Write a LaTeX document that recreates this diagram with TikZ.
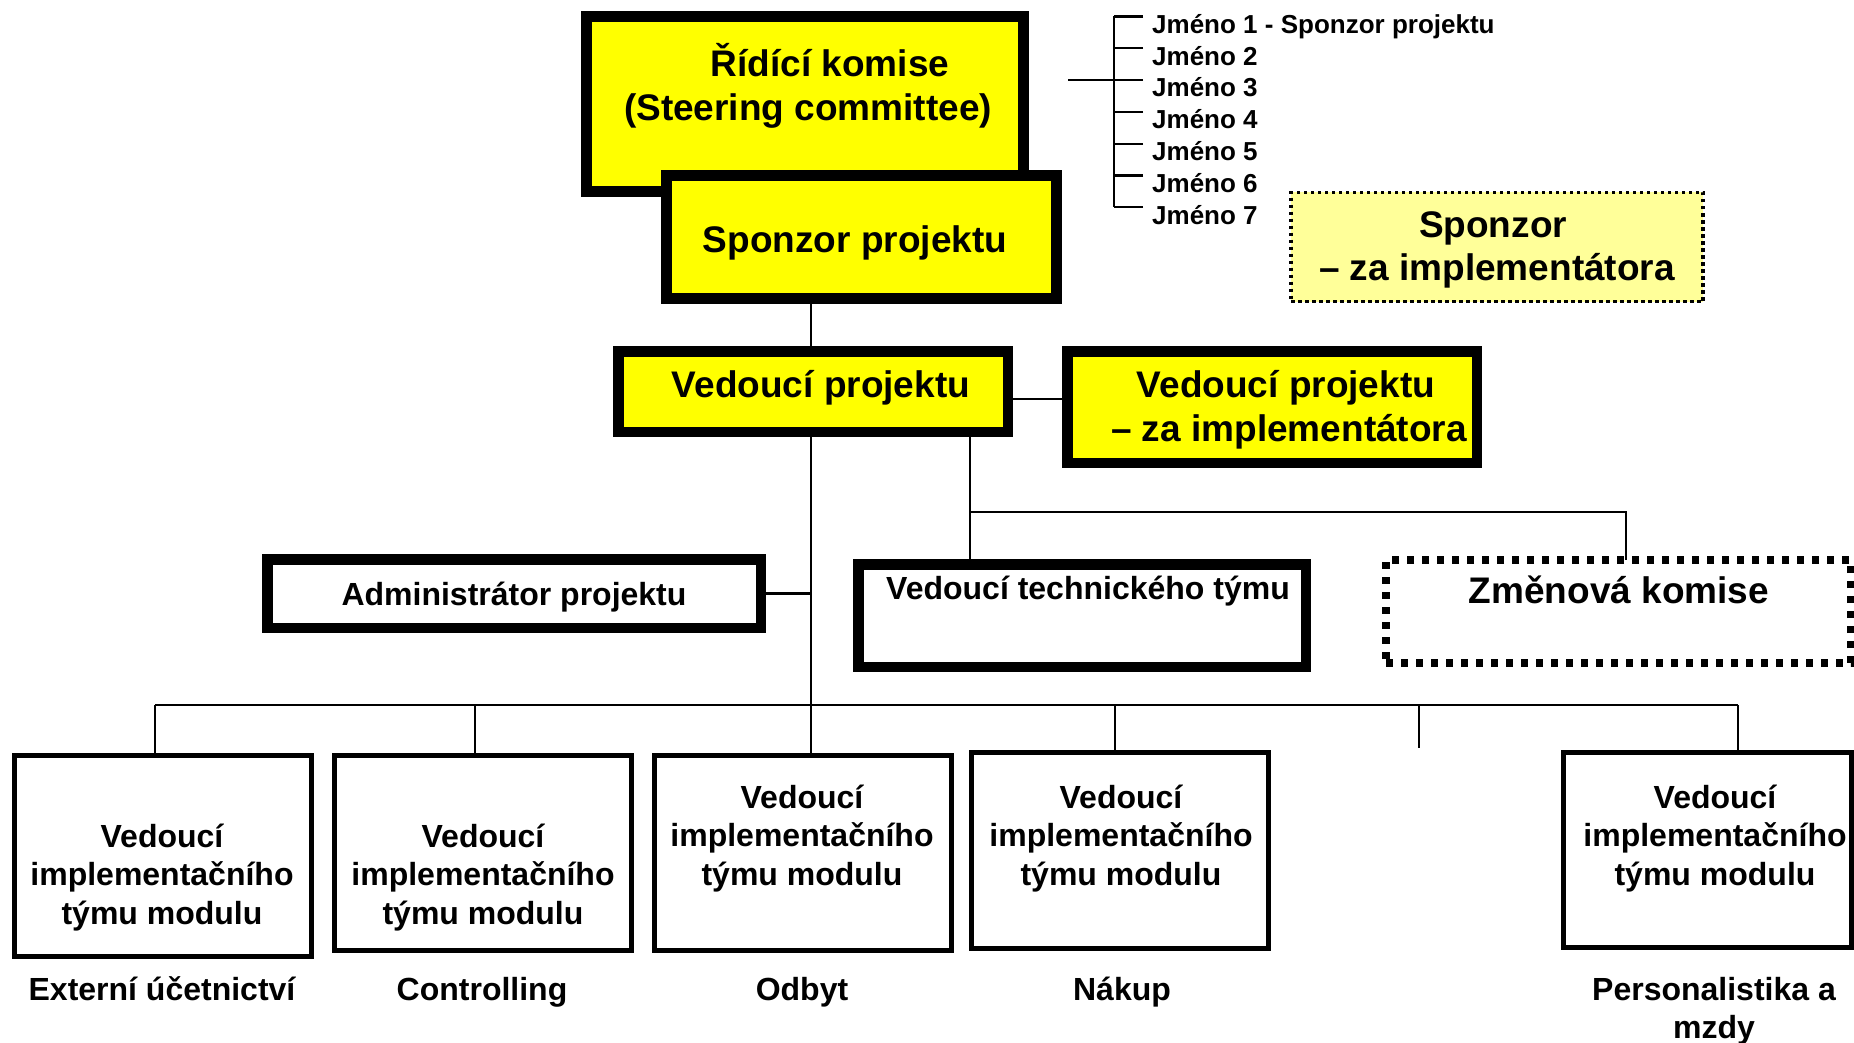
\documentclass[tikz,border=0pt]{standalone}
\usepackage{fontspec}
\setmainfont{Liberation Sans}
\definecolor{yel}{RGB}{255,255,0}
\definecolor{lyel}{RGB}{255,255,153}
\tikzset{
  conn/.style={draw=black, line width=2.2pt},
  ybox/.style={draw=black, fill=yel, inner sep=0pt, outer sep=0pt},
  wbox/.style={draw=black, fill=white, inner sep=0pt, outer sep=0pt},
  lybox/.style={draw=black, fill=lyel, line width=3.5pt, dash pattern=on 3.5pt off 3.5pt, inner sep=0pt, outer sep=0pt},
  dbox/.style={draw=black, fill=white, line width=8pt, dash pattern=on 7pt off 8pt, inner sep=0pt, outer sep=0pt},
  mbox/.style={draw=black, fill=white, line width=5pt, inner sep=0pt, outer sep=0pt, minimum width=297pt, minimum height=195pt},
  tbig/.style={font=\fontsize{37}{44}\selectfont\bfseries, inner sep=0pt, anchor=base},
  tmid/.style={font=\fontsize{32}{38}\selectfont\bfseries, inner sep=0pt, anchor=base},
  tsmall/.style={font=\fontsize{26}{31}\selectfont\bfseries, inner sep=0pt, anchor=base west},
}
\newcommand\modlines[3]{%
  \node[tmid] (#1a) at (#2,#3) {Vedoucí};
  \node[tmid] (#1b) at (#2,#3+38.5) {implementačního};
  \node[tmid] (#1c) at (#2,#3+77) {týmu modulu};
}
\begin{document}
\begin{tikzpicture}[x=1pt,y=-1pt]
\useasboundingbox (0,0) rectangle (1854,1043);
% boxes
\node[ybox, line width=11pt, minimum width=437pt, minimum height=175pt] (rk) at (805,104) {};
\node[ybox, line width=11pt, minimum width=390pt, minimum height=123pt] (sp) at (861.5,237) {};
\node[ybox, line width=10.5pt, minimum width=389.5pt, minimum height=80.5pt] (vp) at (813,391.5) {};
\node[ybox, line width=10.5pt, minimum width=409.5pt, minimum height=111.5pt] (vpzi) at (1272,407) {};
\node[lybox, minimum width=412pt, minimum height=109pt] (szi) at (1497,247) {};
\node[wbox, line width=10.5pt, minimum width=493.5pt, minimum height=68.5pt] (adm) at (514,593.5) {};
\node[wbox, line width=10.5pt, minimum width=447.5pt, minimum height=102.5pt] (vtt) at (1082,615.5) {};
\node[dbox, minimum width=465pt, minimum height=103pt] (zk) at (1618.5,611.5) {};
\node[mbox, minimum height=201pt] (b1) at (162.5,856) {};
\node[mbox] (b2) at (483,853) {};
\node[mbox] (b3) at (803,853) {};
\node[mbox, minimum height=196pt] (b4) at (1120,850.5) {};
\node[mbox, minimum width=288pt] (b6) at (1707.5,850) {};
% texts
\node[tbig] (rk1) at (830,77) {Řídící komise};
\node[tbig] (rk2) at (808,121) {(Steering committee)};
\node[tbig] (spt) at (855,252) {Sponzor projektu};
\node[tbig] (vpt) at (821,397) {Vedoucí projektu};
\node[tbig] (vz1) at (1286,397) {Vedoucí projektu};
\node[tbig] (vz2) at (1289,441) {– za implementátora};
\node[tbig] (sz1) at (1493,237) {Sponzor};
\node[tbig] (sz2) at (1497,280) {– za implementátora};
\node[tmid] (admt) at (514,605) {Administrátor projektu};
\node[tmid] (vttt) at (1088,599) {Vedoucí technického týmu};
\node[tbig] (zkt) at (1619,603) {Změnová komise};
\modlines{m1}{162}{847}
\modlines{m2}{483}{847}
\modlines{m3}{802}{808}
\modlines{m4}{1121}{808}
\modlines{m6}{1715}{808}
\node[tmid] (l1) at (162,1000) {Externí účetnictví};
\node[tmid] (l2) at (482,1000) {Controlling};
\node[tmid] (l3) at (802,1000) {Odbyt};
\node[tmid] (l4) at (1122,1000) {Nákup};
\node[tmid] (l6a) at (1714,1000) {Personalistika a};
\node[tmid] (l6b) at (1714,1038) {mzdy};
% names
\node[tsmall] (j1) at (1152,33.3) {Jméno 1 - Sponzor projektu};
\node[tsmall] (j2) at (1152,65.1) {Jméno 2};
\node[tsmall] (j3) at (1152,96.9) {Jméno 3};
\node[tsmall] (j4) at (1152,128.7) {Jméno 4};
\node[tsmall] (j5) at (1152,160.5) {Jméno 5};
\node[tsmall] (j6) at (1152,192.3) {Jméno 6};
\node[tsmall] (j7) at (1152,224.1) {Jméno 7};
\foreach \i in {1,...,7}{
  \draw[conn] ([shift={(-9pt,16.8pt)}]j\i.base west) -- ++(-29pt,0pt) coordinate (tk\i);
}
\draw[conn] (tk1) -- (tk7);
\draw[conn] (tk3) -- ++(-46pt,0pt) coordinate (stub);
% connectors
\coordinate (trunk) at (811,705);
\draw[conn] (sp.south -| trunk) -- (vp.north -| trunk);
\draw[conn] (vp.south -| trunk) -- (b3.north -| trunk);
\draw[conn] (adm.east) -- (adm.east -| trunk);
\draw[conn] ([yshift=-7.5pt]vp.east) -- ([yshift=-7.5pt]vp.east -| vpzi.west);
\coordinate (tj) at (970,512);
\coordinate (tz) at (1626,512);
\draw[conn] (vp.south -| tj) -- (vtt.north -| tj);
\draw[conn] (tj) -- (tz) -- (tz |- zk.north);
\coordinate (s1) at (155,705);
\coordinate (s2) at (475,705);
\coordinate (s4) at (1115,705);
\coordinate (s5) at (1419,705);
\coordinate (s6) at (1738,705);
\coordinate (e5) at (1419,748);
\draw[conn] (s1) -- (s6);
\draw[conn] (s1) -- (s1 |- b1.north);
\draw[conn] (s2) -- (s2 |- b2.north);
\draw[conn] (s4) -- (s4 |- b4.north);
\draw[conn] (s5) -- (e5);
\draw[conn] (s6) -- (s6 |- b6.north);
\end{tikzpicture}
\end{document}
